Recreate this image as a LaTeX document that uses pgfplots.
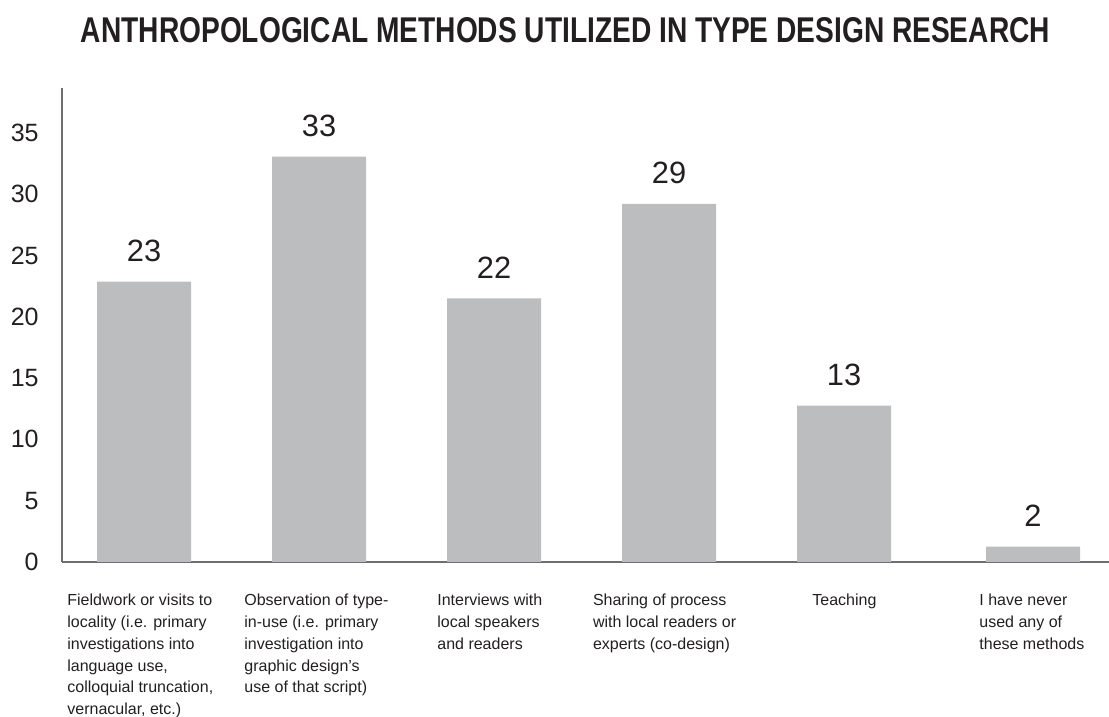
\documentclass[border=0pt]{standalone}
\usepackage{pgfplots}
\pgfplotsset{compat=1.18}
\usepackage{fontspec}
\setmainfont{Liberation Sans}
\definecolor{bargray}{HTML}{BCBDBF}
\definecolor{txt}{HTML}{231F20}
\definecolor{axisgray}{HTML}{6D6E71}
\pgfplotstableread{
x y label
0 22.86 23
1 33.06 33
2 21.51 22
3 29.2 29
4 12.75 13
5.08 1.25 2
}\methods
\begin{document}
\begin{tikzpicture}
\path[use as bounding box] (0,0) rectangle (554.5pt,358.5pt);
\begin{axis}[
  at={(31pt,77.5pt)}, anchor=south west,
  scale only axis, width=523.5pt, height=237pt,
  xmin=-0.4686, xmax=5.514, ymin=0, ymax=38.66,
  axis lines*=left,
  axis line style={axisgray, line width=0.7pt},
  xtick=\empty,
  ytick={0,5,...,35},
  major tick length=0pt,
  /pgf/number format/assume math mode=true,
  yticklabel style={font=\fontsize{12.5}{15}\selectfont, text=txt, inner sep=0pt, xshift=-11.5pt},
  clip=false,
]
\addplot[ybar, fill=bargray, draw=none, bar width=47pt,
  nodes near coords, point meta=explicit symbolic,
  nodes near coords style={font=\fontsize{15.4}{18}\selectfont, text=txt, inner sep=0pt, anchor=base, yshift=10pt}]
  table[x=x, y=y, meta=label] {\methods};
\end{axis}
\node[anchor=center, inner sep=0pt, text=txt] at (282.75pt,343.5pt)
  {\resizebox{484.5pt}{12.5pt}{\bfseries ANTHROPOLOGICAL METHODS UTILIZED IN TYPE DESIGN RESEARCH}};
\tikzset{catlab/.style={anchor=north west, inner sep=0pt, align=left, text=txt, font=\fontsize{8}{10.85}\selectfont}}
\node[catlab] at (33.5pt,61.5pt) {Fieldwork or visits to\\locality (i.e. primary\\investigations into\\language use,\\colloquial truncation,\\vernacular, etc.)};
\node[catlab] at (122pt,61.5pt) {Observation of type-\\in-use (i.e. primary\\investigation into\\graphic design’s\\use of that script)};
\node[catlab] at (218.5pt,61.5pt) {Interviews with\\local speakers\\and readers};
\node[catlab] at (296.3pt,61.5pt) {Sharing of process\\with local readers or\\experts (co-design)};
\node[catlab] at (406pt,61.5pt) {Teaching};
\node[catlab] at (489.5pt,61.5pt) {I have never\\used any of\\these methods};
\end{tikzpicture}
\end{document}
